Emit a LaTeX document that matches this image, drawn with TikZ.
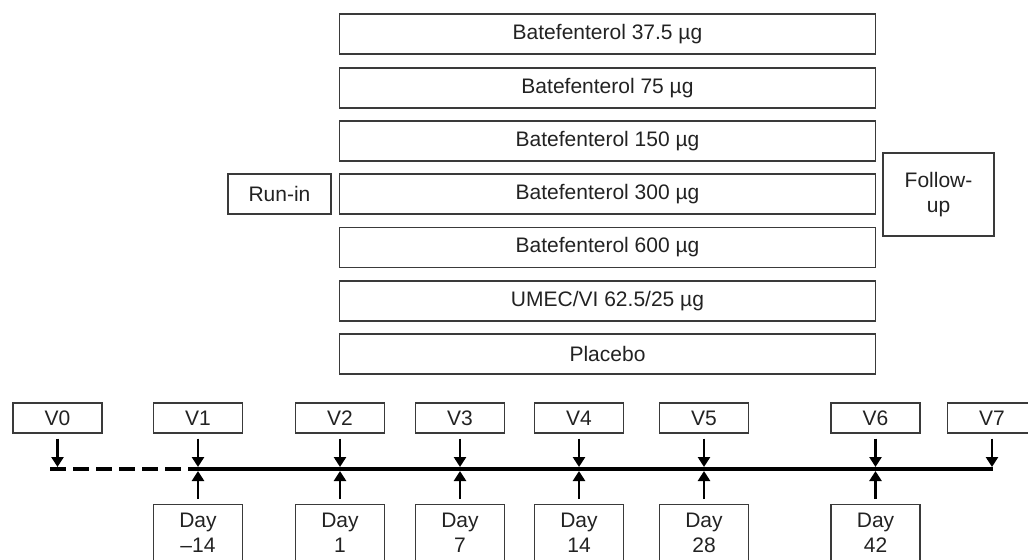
\documentclass[tikz,border=0pt]{standalone}
\usepackage{fontspec}
\setmainfont{Liberation Sans}
\usetikzlibrary{arrows.meta}
\definecolor{boxline}{HTML}{3A3A3A}
\definecolor{txt}{HTML}{222222}
\begin{document}
\begin{tikzpicture}[x=0.5pt,y=-0.5pt,
  every node/.style={font=\fontsize{10.5pt}{12.5pt}\selectfont, text=txt, inner sep=0pt},
  bx/.style={draw=boxline, line width=0.65pt, rectangle, align=center},
  arm/.style={bx, minimum width=268pt, minimum height=20pt},
  vbox/.style={bx, minimum width=44.5pt, minimum height=15pt},
  daybox/.style={bx, minimum width=44.5pt, minimum height=28.5pt, anchor=north},
  arr/.style={line width=1.3pt, black, -{Triangle[length=5pt,width=6pt]}, shorten <=2.5pt},
  tline/.style={line width=2pt, black}
]
\useasboundingbox (0,0) rectangle (1028,559);
\clip (0,0) rectangle (1028,559);

% treatment arms
\node[arm] (t1) at (607.5,34) {Batefenterol 37.5 µg};
\node[arm] (t2) at (607.5,88) {Batefenterol 75 µg};
\node[arm] (t3) at (607.5,141) {Batefenterol 150 µg};
\node[arm] (t4) at (607.5,194) {Batefenterol 300 µg};
\node[arm] (t5) at (607.5,247.5) {Batefenterol 600 µg};
\node[arm] (t6) at (607.5,301) {UMEC/VI 62.5/25 µg};
\node[arm] (t7) at (607.5,354) {Placebo};

\node[bx, minimum width=51.5pt, minimum height=20pt] (runin) at (279.5,194) {Run-in};
\node[bx, minimum width=55.5pt, minimum height=41.5pt] (fu) at (938.5,194.5) {Follow-\\up};

% visit boxes
\node[vbox] (v0) at (57.5,418) {V0};
\node[vbox] (v1) at (198,418) {V1};
\node[vbox] (v2) at (340,418) {V2};
\node[vbox] (v3) at (460,418) {V3};
\node[vbox] (v4) at (579,418) {V4};
\node[vbox] (v5) at (704,418) {V5};
\node[vbox] (v6) at (875.5,418) {V6};
\node[vbox] (v7) at (992,418) {V7};

% day boxes
\node[daybox] (d1) at (198,504) {Day\\–14};
\node[daybox] (d2) at (340,504) {Day\\1};
\node[daybox] (d3) at (460,504) {Day\\7};
\node[daybox] (d4) at (579,504) {Day\\14};
\node[daybox] (d5) at (704,504) {Day\\28};
\node[daybox] (d6) at (875.5,504) {Day\\42};

% timeline
\coordinate (s) at (50,469);
\coordinate (e) at (993,469);
\draw[tline, dash pattern=on 8pt off 3.5pt] (s) -- (v1.south |- s);
\draw[tline] (v1.south |- s) -- (e);

% arrows down from visits
\foreach \v in {v0,v1,v2,v3,v4,v5,v6,v7}
  \draw[arr] (\v.south) -- ([yshift=1pt]\v.south |- s);
% arrows up from days
\foreach \d in {d1,d2,d3,d4,d5,d6}
  \draw[arr] (\d.north) -- ([yshift=-1pt]\d.north |- s);
\end{tikzpicture}
\end{document}
